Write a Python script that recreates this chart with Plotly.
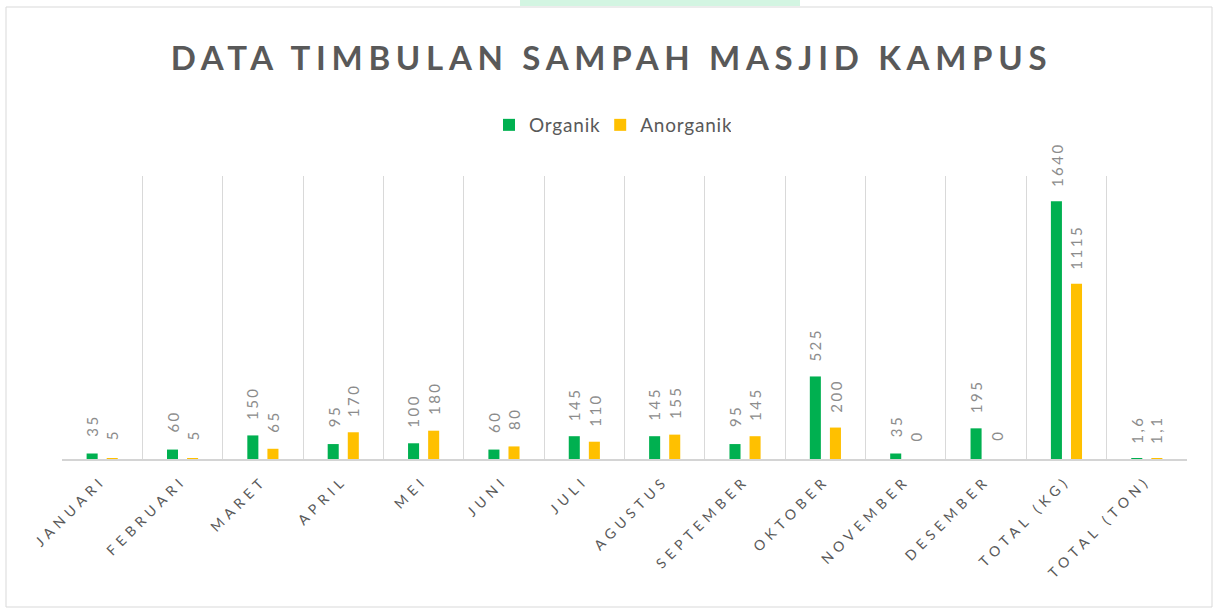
import plotly.graph_objects as go

categories = ["JANUARI", "FEBRUARI", "MARET", "APRIL", "MEI", "JUNI", "JULI",
              "AGUSTUS", "SEPTEMBER", "OKTOBER", "NOVEMBER", "DESEMBER",
              "TOTAL (KG)", "TOTAL (TON)"]
organik = [35, 60, 150, 95, 100, 60, 145, 145, 95, 525, 35, 195, 1640, 1.6]
anorganik = [5, 5, 65, 170, 180, 80, 110, 155, 145, 200, 0, 0, 1115, 1.1]

GREEN = "#00B050"
YELLOW = "#FFC000"
FONT = "Lato"


def fmt(v):
    if float(v).is_integer():
        return str(int(v))
    return ("%g" % v).replace(".", ",")


fig = go.Figure()
fig.add_trace(go.Bar(name="Organik", x=categories, y=organik,
                     marker=dict(color=GREEN, line=dict(width=0)), hoverinfo="skip"))
fig.add_trace(go.Bar(name="Anorganik", x=categories, y=anorganik,
                     marker=dict(color=YELLOW, line=dict(width=0)), hoverinfo="skip"))

annotations = []
for series, shift in ((organik, -10), (anorganik, 10)):
    for c, v in zip(categories, series):
        annotations.append(dict(
            x=c, y=v, xref="x", yref="y", text=fmt(v), showarrow=False,
            textangle=-90, xanchor="center", yanchor="bottom",
            xshift=shift, yshift=17,
            font=dict(family=FONT, size=15, color="#8c8c8c")))

# plot area: x 62..1187, y 176..459 (pixels)
L, R, T, B = 62, 1187, 176, 459
W, H = 1215, 610


def px(xp):
    return (xp - L) / (R - L)


def py(yp):
    return (B - yp) / (B - T)


shapes = [
    dict(type="rect", xref="paper", yref="paper",
         x0=px(6), x1=px(1212), y0=py(7), y1=py(607),
         line=dict(color="#d9d9d9", width=1), fillcolor="rgba(0,0,0,0)", layer="below"),
    dict(type="rect", xref="paper", yref="paper",
         x0=px(520), x1=px(800), y0=py(0), y1=py(6),
         line=dict(width=0), fillcolor="#d3f5e2", layer="below"),
]

fig.update_layout(
    width=W, height=H,
    margin=dict(l=L, r=W - R, t=T, b=H - B),
    paper_bgcolor="white", plot_bgcolor="white",
    title=dict(text="<b>DATA TIMBULAN SAMPAH MASJID KAMPUS</b>",
               x=0.5033, xanchor="center", y=1 - 58 / H, yanchor="middle",
               font=dict(family=FONT, size=33, color="#595959")),
    legend=dict(orientation="h", x=px(610), xanchor="center", y=py(125), yanchor="middle",
                font=dict(family=FONT, size=19, color="#595959"),
                itemwidth=30, traceorder="normal"),
    barmode="group", bargap=0.5, bargroupgap=0.45,
    xaxis=dict(type="category", tickson="boundaries", showgrid=True, gridcolor="#d9d9d9",
               gridwidth=1, ticks="", showline=True, linecolor="#d4d4d4", linewidth=1.5,
               tickangle=-45, ticklabelstandoff=6,
               tickfont=dict(family=FONT, size=14, color="#595959"), fixedrange=True),
    yaxis=dict(range=[0, 1800], visible=False, showgrid=False, zeroline=False, fixedrange=True),
    annotations=annotations,
    shapes=shapes,
    showlegend=True,
)

post_script = """
document.body.style.margin = '0';
document.body.style.padding = '0';
var gd = document.getElementById('{plot_id}');
function ls(sel, v){ gd.querySelectorAll(sel).forEach(function(t){ t.style.letterSpacing = v; }); }
ls('.gtitle', '5.7px');
ls('.xtick text', '5px');
ls('.annotation-text', '2.5px');
ls('.legendtext', '0.8px');
"""

fig.write_html("out.html", post_script=post_script, config={"displayModeBar": False})
